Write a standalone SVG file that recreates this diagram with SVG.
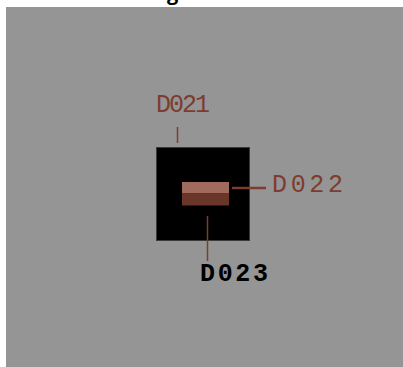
<svg xmlns="http://www.w3.org/2000/svg" width="403" height="367" viewBox="0 0 403 367">
  <style>
    .lbl { font-family: "Liberation Mono", "DejaVu Sans Mono", monospace; font-size: 25px; }
    .red { fill: #7d3c30; font-weight: normal; }
    .blk { fill: #000000; font-weight: bold; }
    .lead { stroke: #7d3c30; fill: none; }
  </style>
  <rect x="0" y="0" width="403" height="367" fill="#ffffff"/>
  <!-- descender of the heading line, clipped by the page edge -->
  <text x="167" y="0" font-family="Open Sans, sans-serif" font-size="20" font-weight="bold" fill="#000000">g</text>
  <rect x="6" y="7" width="397" height="360" fill="#959595"/>

  <g id="housing">
    <rect x="156.5" y="147.5" width="93" height="93" fill="#000000" stroke="#3a3a3a" stroke-width="1"/>
  </g>
  <g id="element">
    <rect x="182" y="182" width="47" height="11.5" fill="#a06a5c"/>
    <rect x="182" y="193.5" width="47" height="12" fill="#6a362a"/>
  </g>

  <g id="connectors">
    <line class="lead" x1="177.5" y1="127" x2="177.5" y2="143" stroke-width="1.5"/>
    <line class="lead" x1="232" y1="188" x2="266" y2="188" stroke-width="2.5"/>
    <line class="lead" x1="207.5" y1="216" x2="207.5" y2="261" stroke-width="1.5"/>
  </g>

  <g id="label-D021">
    <text class="lbl red" x="156" y="112" textLength="54" lengthAdjust="spacing">D021</text>
  </g>
  <g id="label-D022">
    <text class="lbl red" x="272" y="192" textLength="71" lengthAdjust="spacing">D022</text>
  </g>
  <g id="label-D023">
    <text class="lbl blk" x="200" y="281" textLength="68" lengthAdjust="spacing">D023</text>
  </g>
</svg>
